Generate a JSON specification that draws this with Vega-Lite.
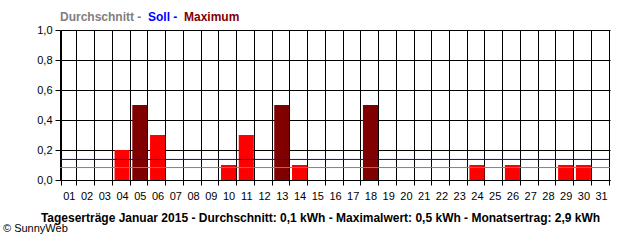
{
  "$schema": "https://vega.github.io/schema/vega-lite/v6.json",
  "width": 550,
  "height": 150,
  "autosize": {"type": "none"},
  "padding": {"left": 60, "top": 30, "right": 30, "bottom": 60},
  "background": "white",
  "config": {"view": {"stroke": null}, "font": "Liberation Sans"},
  "title": {"text": "© SunnyWeb", "orient": "bottom", "anchor": "start", "frame": "group", "dx": -57, "offset": 0, "fontSize": 11, "fontWeight": "normal", "font": "Liberation Sans", "color": "black"},
  "datasets": {
    "days": [
      {"day": "01", "value": 0, "kind": "Tag"},
      {"day": "02", "value": 0, "kind": "Tag"},
      {"day": "03", "value": 0, "kind": "Tag"},
      {"day": "04", "value": 0.2, "kind": "Tag"},
      {"day": "05", "value": 0.5, "kind": "Maximum"},
      {"day": "06", "value": 0.3, "kind": "Tag"},
      {"day": "07", "value": 0, "kind": "Tag"},
      {"day": "08", "value": 0, "kind": "Tag"},
      {"day": "09", "value": 0, "kind": "Tag"},
      {"day": "10", "value": 0.1, "kind": "Tag"},
      {"day": "11", "value": 0.3, "kind": "Tag"},
      {"day": "12", "value": 0, "kind": "Tag"},
      {"day": "13", "value": 0.5, "kind": "Maximum"},
      {"day": "14", "value": 0.1, "kind": "Tag"},
      {"day": "15", "value": 0, "kind": "Tag"},
      {"day": "16", "value": 0, "kind": "Tag"},
      {"day": "17", "value": 0, "kind": "Tag"},
      {"day": "18", "value": 0.5, "kind": "Maximum"},
      {"day": "19", "value": 0, "kind": "Tag"},
      {"day": "20", "value": 0, "kind": "Tag"},
      {"day": "21", "value": 0, "kind": "Tag"},
      {"day": "22", "value": 0, "kind": "Tag"},
      {"day": "23", "value": 0, "kind": "Tag"},
      {"day": "24", "value": 0.1, "kind": "Tag"},
      {"day": "25", "value": 0, "kind": "Tag"},
      {"day": "26", "value": 0.1, "kind": "Tag"},
      {"day": "27", "value": 0, "kind": "Tag"},
      {"day": "28", "value": 0, "kind": "Tag"},
      {"day": "29", "value": 0.1, "kind": "Tag"},
      {"day": "30", "value": 0.1, "kind": "Tag"},
      {"day": "31", "value": 0, "kind": "Tag"}
    ],
    "lines": [
      {"kind": "Durchschnitt", "value": 0.083},
      {"kind": "Soll", "value": 0.137}
    ]
  },
  "encoding": {
    "y": {
      "field": "value", "type": "quantitative",
      "scale": {"domain": [0, 1], "nice": false},
      "axis": {
        "values": [0, 0.2, 0.4, 0.6, 0.8, 1],
        "labelExpr": "replace(format(datum.value, '.1f'), '.', ',')",
        "labelOverlap": false, "labelFlush": false,
        "grid": true, "gridColor": "black", "gridOpacity": 1,
        "domainColor": "black", "tickColor": "black", "tickSize": 5,
        "labelFontSize": 11, "labelPadding": 3, "labelColor": "black", "labelFont": "Liberation Sans",
        "title": null
      }
    }
  },
  "layer": [
    {
      "data": {"name": "days"},
      "mark": {"type": "bar"},
      "encoding": {
        "x": {
          "field": "day", "type": "ordinal",
          "scale": {"paddingInner": 0.15, "paddingOuter": 0.075},
          "axis": {
            "tickBand": "extent", "grid": true, "gridColor": "black", "gridOpacity": 1,
            "domainColor": "black", "tickColor": "black", "tickSize": 5,
            "labelAngle": 0, "labelFontSize": 11, "labelPadding": 5, "labelColor": "black", "labelFont": "Liberation Sans",
            "title": "Tageserträge Januar 2015 - Durchschnitt: 0,1 kWh - Maximalwert: 0,5 kWh - Monatsertrag: 2,9 kWh",
            "titleFont": "Liberation Sans", "titleFontWeight": "bold", "titleFontSize": 12, "titleColor": "black",
            "titleX": 260, "titleY": 41, "titleBaseline": "alphabetic", "titleAnchor": "middle", "titleAlign": "center"
          }
        },
        "color": {
          "field": "kind", "type": "nominal",
          "scale": {"domain": ["Durchschnitt", "Soll", "Maximum", "Tag"], "range": ["#808080", "#0000ff", "#800000", "#ff0000"]},
          "legend": {
            "values": ["Durchschnitt", "Soll", "Maximum"],
            "orient": "none", "legendX": -12, "legendY": -19, "direction": "horizontal",
            "gridAlign": "none",
            "title": null, "padding": 0, "symbolSize": 0.01, "symbolOpacity": 0, "symbolStrokeWidth": 0.01,
            "labelOffset": 0, "columnPadding": -6,
            "labelFont": "Liberation Sans", "labelFontWeight": "bold", "labelFontSize": 12,
            "labelExpr": "datum.label == 'Maximum' ? datum.label : datum.label + ' -'",
            "encode": {"labels": {"update": {"fill": {"scale": "color", "field": "value"}}}}
          }
        }
      }
    },
    {
      "data": {"name": "lines"},
      "mark": {"type": "rule", "strokeWidth": 1},
      "encoding": {
        "color": {"field": "kind", "type": "nominal"}
      }
    }
  ]
}
